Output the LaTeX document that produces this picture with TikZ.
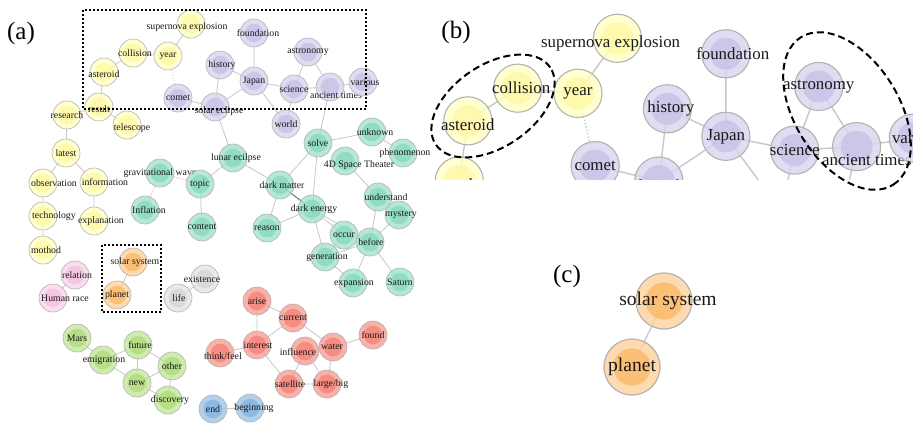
\documentclass[tikz,border=0pt]{standalone}
\usepackage{fontspec}
\setmainfont{Liberation Serif}

\pgfdeclarelayer{edges}
\pgfsetlayers{edges,main}

\definecolor{yelO}{HTML}{FFFFC4}
\definecolor{yelI}{HTML}{FEF8A6}
\definecolor{purO}{HTML}{D8D6EE}
\definecolor{purI}{HTML}{C7C3E6}
\definecolor{teaO}{HTML}{A6E3D0}
\definecolor{teaI}{HTML}{8AD9C1}
\definecolor{redO}{HTML}{F9A096}
\definecolor{redI}{HTML}{F4857A}
\definecolor{grnO}{HTML}{C6E79C}
\definecolor{grnI}{HTML}{B1DC7E}
\definecolor{bluO}{HTML}{A2C6E7}
\definecolor{bluI}{HTML}{86B5DF}
\definecolor{pnkO}{HTML}{FAD6EC}
\definecolor{pnkI}{HTML}{F6C3E1}
\definecolor{gryO}{HTML}{E4E4E4}
\definecolor{gryI}{HTML}{D8D8D8}
\definecolor{orgO}{HTML}{FDD29E}
\definecolor{orgI}{HTML}{FBBA6A}

\tikzset{
  ring/.style={line width=0.6pt},
  word/.style={circle, minimum size=28pt, inner sep=0pt, draw=black!30, ring,
    fill opacity=0.82, text opacity=1, text=black!90},
  yel/.style={word, fill=yelO, path picture={\fill[yelI] (path picture bounding box.center) circle (9.3pt);}},
  pur/.style={word, fill=purO, path picture={\fill[purI] (path picture bounding box.center) circle (9.3pt);}},
  tea/.style={word, fill=teaO, path picture={\fill[teaI] (path picture bounding box.center) circle (9.3pt);}},
  red/.style={word, fill=redO, path picture={\fill[redI] (path picture bounding box.center) circle (9.3pt);}},
  grn/.style={word, fill=grnO, path picture={\fill[grnI] (path picture bounding box.center) circle (9.3pt);}},
  blu/.style={word, fill=bluO, path picture={\fill[bluI] (path picture bounding box.center) circle (9.3pt);}},
  pnk/.style={word, fill=pnkO, path picture={\fill[pnkI] (path picture bounding box.center) circle (9.3pt);}},
  gry/.style={word, fill=gryO, path picture={\fill[gryI] (path picture bounding box.center) circle (9.3pt);}},
  org/.style={word, fill=orgO, path picture={\fill[orgI] (path picture bounding box.center) circle (9.3pt);}},
  link/.style={draw=black!22, line width=0.8pt},
  pinklink/.style={link, draw=red!20},
  darklink/.style={link, draw=black!65},
  dotlink/.style={link, dotted},
  panel/.style={font=\fontsize{25}{30}\selectfont},
  zoombox/.style={line width=1.8pt, dash pattern=on 2pt off 2pt},
  lasso/.style={line width=2pt, dash pattern=on 7pt off 4pt},
}

% word label, shifted by [dx][dy] from the circle centre
\NewDocumentCommand\wl{O{0pt}O{0pt}m}{%
  \makebox[0pt]{\hspace*{#1}\hspace*{#1}\raisebox{#2}[\height][\depth]{#3}}}

% the whole co-occurrence network, (a) coordinates; #1 = clip region
\newcommand\wordnet[1]{%
  % yellow cluster
  \node[yel] (supernova) at (191,24) {\wl[-4pt][-3pt]{supernova explosion}};
  \node[yel] (year) at (168,56) {\wl{year}};
  \node[yel] (collision) at (133,53) {\wl[2pt]{collision}};
  \node[yel] (asteroid) at (104,72) {\wl[0pt][-2pt]{asteroid}};
  \node[yel] (result) at (99,107) {\wl[0pt][-2pt]{result}};
  \node[yel] (telescope) at (127,125) {\wl[5pt][-3pt]{telescope}};
  \node[yel] (research) at (67,115) {\wl{research}};
  \node[yel] (latest) at (66,153) {\wl{latest}};
  \node[yel] (observation) at (43,183) {\wl[11pt]{observation}};
  \node[yel] (information) at (94,182) {\wl[11pt]{information}};
  \node[yel] (technology) at (43,216) {\wl[11pt]{technology}};
  \node[yel] (explanation) at (94,221) {\wl[7pt]{explanation}};
  \node[yel] (mothod) at (43,250) {\wl[3pt]{mothod}};
  % purple cluster
  \node[pur] (foundation) at (254,33) {\wl[4pt]{foundation}};
  \node[pur] (history) at (220,65) {\wl[2pt]{history}};
  \node[pur] (japan) at (254,81) {\wl{Japan}};
  \node[pur] (astronomy) at (308,52) {\wl{astronomy}};
  \node[pur] (science) at (294,89) {\wl{science}};
  \node[pur] (ancient) at (330,87) {\wl[6pt][-8pt]{ancient times}};
  \node[pur] (various) at (363,82) {\wl[2pt]{various}};
  \node[pur] (comet) at (178,98) {\wl{comet}};
  \node[pur] (soleclipse) at (215,107) {\wl[4pt][-4pt]{solar eclipse}};
  \node[pur] (world) at (286,124) {\wl{world}};
  % teal cluster
  \node[tea] (solve) at (318,143) {\wl{solve}};
  \node[tea] (unknown) at (372,132) {\wl[3pt]{unknown}};
  \node[tea] (phenomenon) at (403,153) {\wl[2pt]{phenomenon}};
  \node[tea] (theater) at (345,161) {\wl[14pt][-4pt]{4D Space Theater}};
  \node[tea] (lunar) at (233,158) {\wl[3pt]{lunar ecilpse}};
  \node[tea] (gravwave) at (160,173) {\wl{gravitational wave}};
  \node[tea] (topic) at (200,184) {\wl{topic}};
  \node[tea] (inflation) at (145,210) {\wl[4pt]{Inflation}};
  \node[tea] (content) at (202,227) {\wl{content}};
  \node[tea] (darkmatter) at (280,185) {\wl[2pt]{dark matter}};
  \node[tea] (darkenergy) at (312,209) {\wl[2pt]{dark energy}};
  \node[tea] (reason) at (267,228) {\wl{reason}};
  \node[tea] (understand) at (378,197) {\wl[8pt]{understand}};
  \node[tea] (mystery) at (399,215) {\wl[2pt]{mystery}};
  \node[tea] (occur) at (344,235) {\wl{occur}};
  \node[tea] (before) at (370,242) {\wl[1pt]{before}};
  \node[tea] (generation) at (325,257) {\wl[2pt]{generation}};
  \node[tea] (expansion) at (353,283) {\wl[1pt]{expansion}};
  \node[tea] (saturn) at (400,282) {\wl{Saturn}};
  % small clusters
  \node[org] (solarsys) at (133,262) {\wl[2pt]{solar system}};
  \node[org] (planet) at (117,295) {\wl{planet}};
  \node[pnk] (relation) at (75,275) {\wl[2pt]{relation}};
  \node[pnk] (human) at (53,298) {\wl[12pt]{Human race}};
  \node[gry] (existence) at (205,279) {\wl[-3pt]{existence}};
  \node[gry] (life) at (178,298) {\wl[1pt]{life}};
  % green cluster
  \node[grn] (mars) at (77,338) {\wl{Mars}};
  \node[grn] (emigration) at (103,360) {\wl[1pt]{emigration}};
  \node[grn] (future) at (138,345) {\wl[2pt]{future}};
  \node[grn] (other) at (172,366) {\wl{other}};
  \node[grn] (new) at (137,383) {\wl{new}};
  \node[grn] (discovery) at (168,400) {\wl[2pt]{discovery}};
  % red cluster
  \node[red] (arise) at (257,301) {\wl{arise}};
  \node[red] (current) at (293,318) {\wl{current}};
  \node[red] (found) at (373,335) {\wl{found}};
  \node[red] (interest) at (257,345) {\wl[1pt]{interest}};
  \node[red] (thinkfeel) at (220,353) {\wl[3pt][-3pt]{think/feel}};
  \node[red] (influence) at (305,351) {\wl[-7pt][-1pt]{influence}};
  \node[red] (water) at (333,347) {\wl[-1pt]{water}};
  \node[red] (satellite) at (289,384) {\wl[1pt]{satellite}};
  \node[red] (largebig) at (327,384) {\wl[4pt]{large/big}};
  % blue pair
  \node[blu] (endw) at (213,409) {\wl{end}};
  \node[blu] (beginning) at (250,408) {\wl[4pt]{beginning}};
  % links, behind the circles
  \begin{pgfonlayer}{edges}
  \begin{scope}
    \clip #1;
    \draw[link] (supernova.center) -- (year.center) -- (collision.center) -- (asteroid.center)
      -- (result.center) -- (research.center) -- (latest.center) -- (observation.center)
      -- (technology.center) -- (mothod.center);
    \draw[link] (result.center) -- (telescope.center);
    \draw[link] (latest.center) -- (information.center) -- (explanation.center);
    \draw[dotlink] (year.center) -- (comet.center);
    \draw[link] (foundation.center) -- (japan.center) -- (soleclipse.center) -- (comet.center);
    \draw[link] (history.center) -- (japan.center) -- (science.center) -- (astronomy.center)
      -- (ancient.center) -- (various.center);
    \draw[link] (history.center) -- (soleclipse.center) -- (lunar.center);
    \draw[link] (science.center) -- (ancient.center) -- (solve.center);
    \draw[link] (japan.center) -- (world.center) -- (science.center);
    \draw[link] (solve.center) -- (unknown.center) -- (phenomenon.center);
    \draw[link] (solve.center) -- (darkmatter.center) -- (lunar.center) -- (topic.center) -- (content.center);
    \draw[link] (solve.center) -- (darkenergy.center) -- (reason.center) -- (darkmatter.center);
    \draw[pinklink] (inflation.center) -- (gravwave.center) -- (topic.center);
    \draw[darklink] (darkmatter.center) -- (darkenergy.center);
    \draw[link] (darkenergy.center) -- (occur.center) -- (before.center) -- (generation.center) -- (darkenergy.center);
    \draw[link] (darkenergy.center) -- (before.center) -- (understand.center) -- (theater.center);
    \draw[link] (before.center) -- (mystery.center) -- (understand.center);
    \draw[link] (occur.center) -- (generation.center) -- (expansion.center) -- (before.center) -- (saturn.center);
    \draw[link] (relation.center) -- (human.center);
    \draw[link] (solarsys.center) -- (planet.center);
    \draw[link] (existence.center) -- (life.center);
    \draw[link] (mars.center) -- (emigration.center) -- (future.center) -- (new.center) -- (emigration.center);
    \draw[link] (future.center) -- (other.center) -- (new.center) -- (discovery.center) -- (other.center);
    \draw[link] (arise.center) -- (current.center) -- (interest.center) -- (arise.center);
    \draw[link] (thinkfeel.center) -- (interest.center) -- (satellite.center) -- (largebig.center) -- (water.center) -- (found.center);
    \draw[link] (current.center) -- (water.center) -- (influence.center) -- (satellite.center);
    \draw[link] (influence.center) -- (largebig.center);
    \draw[link] (endw.center) -- (beginning.center);
  \end{scope}
  \end{pgfonlayer}
}

\begin{document}
\begin{tikzpicture}[x=1pt, y=-1pt, font=\fontsize{9.8}{11.5}\selectfont]
  \useasboundingbox (0,0) rectangle (913,424);

  % (a) full network
  \node[panel] (lab-a) at (21,33) {(a)};
  \begin{scope}
    \wordnet{(0,0) rectangle (450,424)}
  \end{scope}
  \draw[zoombox] (83,10) rectangle (366,109);
  \draw[zoombox] (102,245) rectangle (161,312);

  % (b) enlarged upper box
  \node[panel] (lab-b) at (456,32) {(b)};
  \begin{scope}[shift={(289,-3)}, scale=1.72, transform shape,
      ring/.style={line width=1.1pt}, link/.style={draw=black!22, line width=1.4pt}]
    \clip (82,2) rectangle (363,106);
    \wordnet{(82,2) rectangle (363,106)}
  \end{scope}
  \draw[lasso, rotate around={34:(493,106)}] (493,106) ellipse [x radius=69pt, y radius=41pt];
  \draw[lasso, rotate around={-58:(847,111)}] (847,111) ellipse [x radius=87pt, y radius=52pt];

  % (c) enlarged lower box
  \node[panel] (lab-c) at (567,276) {(c)};
  \begin{scope}[shift={(398,-223)}, scale=2, transform shape,
      ring/.style={line width=1.2pt}, link/.style={draw=black!22, line width=1.3pt}]
    \clip (102,245) rectangle (161,312);
    \wordnet{(102,245) rectangle (161,312)}
  \end{scope}
\end{tikzpicture}
\end{document}
